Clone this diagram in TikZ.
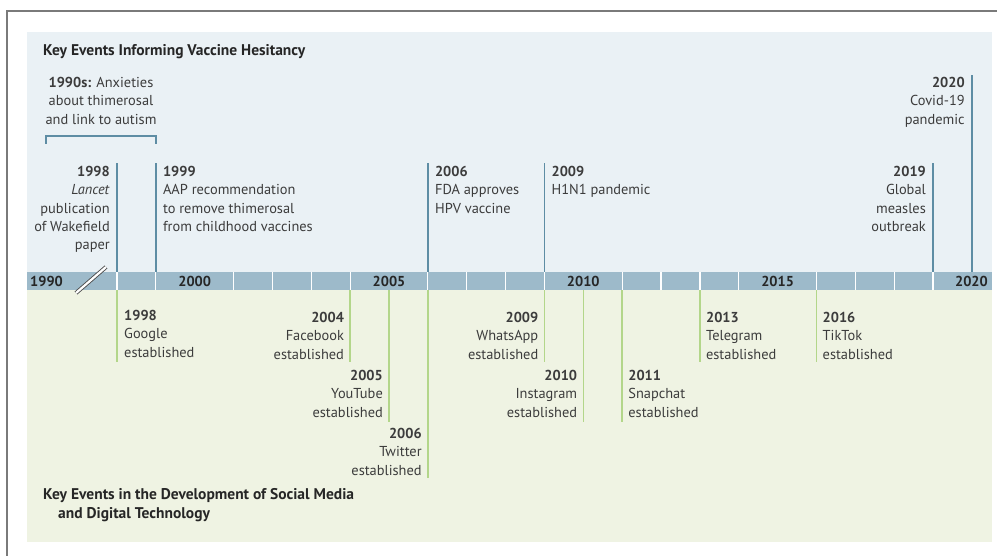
\documentclass[tikz,border=0pt]{standalone}
\usepackage{fontspec}
\setmainfont{PT Sans}
\definecolor{topbg}{HTML}{EAF1F5}
\definecolor{botbg}{HTML}{EFF3E3}
\definecolor{band}{HTML}{9DBACA}
\definecolor{blueline}{HTML}{5E8DA4}
\definecolor{greenline}{HTML}{B3D68A}
\definecolor{txt}{HTML}{3C3C3C}
\definecolor{frame}{HTML}{7A7A7A}
\begin{document}
\begin{tikzpicture}[x=1pt,y=-1pt,
  declare function={yr(\t)=117+38.86*(\t-1998);},
  body/.style={inner sep=0pt,text=txt,font=\fontsize{14.4}{18.3}\selectfont},
  lbl/.style={body,align=left,anchor=north west},
  rlbl/.style={body,align=right,anchor=north east},
  ttl/.style={inner sep=0pt,text=black!85,font=\fontsize{15.5}{19}\selectfont\bfseries,align=left,anchor=west},
  axlbl/.style={inner sep=0pt,text=black!85,font=\fontsize{14.4}{16}\selectfont\bfseries},
  bevent/.style={draw=blueline,line width=1.4pt},
  gevent/.style={draw=greenline,line width=1.4pt},
  sep/.style={draw=white,line width=1.2pt}]
\useasboundingbox (0,0) rectangle (997,556);
\fill[white] (0,0) rectangle (997,556);
% outer frame
\draw[frame,line width=1.3pt] (997,11) -- (7,11) -- (7,556);
% panels
\fill[topbg] (27,32) rectangle (992,272);
\fill[botbg] (27,290) rectangle (992,542);
\fill[band] (27,272) rectangle (992,290);
% band separators
\foreach \y in {1998,1999,2001,2002,2003,2004,2006,2007,2008,2009,2011,2012,2013,2014,2016,2017,2018,2019}
  \draw[sep] ({yr(\y)},272) -- ({yr(\y)},290);
% break mark
\draw[draw=black!70,double=white,double distance=2.2pt,line width=0.9pt] (76,293) -- (106,267);
% axis labels
\node[axlbl,anchor=west] (a1990) at (30,281) {1990};
\node[axlbl] (a2000) at ({yr(2000)},281) {2000};
\node[axlbl] (a2005) at ({yr(2005)},281) {2005};
\node[axlbl] (a2010) at ({yr(2010)},281) {2010};
\node[axlbl] (a2015) at ({yr(2015)},281) {2015};
\node[axlbl,anchor=east] (a2020) at (988,281) {2020};
% titles
\node[ttl] (ttop) at (43,52) {Key Events Informing Vaccine Hesitancy};
\node[ttl] (tbot1) at (43,496) {Key Events in the Development of Social Media};
\node[ttl] (tbot2) at (58,515) {and Digital Technology};
% bracket
\coordinate (brL) at (46,144);
\coordinate (brR) at ({yr(1999)},144);
\draw[blueline,line width=1.4pt] (brL) -- (46,136) -- ({yr(1999)},136) -- (brR);
\node[body,align=center,anchor=north] (e1990s) at (101,77) {\textbf{1990s:} Anxieties\\about thimerosal\\and link to autism};
% top events
\foreach \y/\t in {1998/163,1999/163,2006/163,2009/163,2019/163,2020/75}
  \draw[bevent] ({yr(\y)},272) -- ({yr(\y)},\t);
\node[rlbl] (e1998t) at ({yr(1998)-7},166) {\textbf{1998}\\\textit{Lancet}\\publication\\of Wakefield\\paper};
\node[lbl] (e1999t) at ({yr(1999)+7},166) {\textbf{1999}\\AAP recommendation\\to remove thimerosal\\from childhood vaccines};
\node[lbl] (e2006t) at ({yr(2006)+7},166) {\textbf{2006}\\FDA approves\\HPV vaccine};
\node[lbl] (e2009t) at ({yr(2009)+7},166) {\textbf{2009}\\H1N1 pandemic};
\node[rlbl] (e2019t) at ({yr(2019)-7},166) {\textbf{2019}\\Global\\measles\\outbreak};
\node[rlbl] (e2020t) at ({yr(2020)-7},77) {\textbf{2020}\\Covid-19\\pandemic};
% bottom events
\foreach \y/\b in {1998/362,2004/362,2005/422,2006/478,2009/362,2010/422,2011/422,2013/362,2016/362}
  \draw[gevent] ({yr(\y)},290) -- ({yr(\y)},\b);
\node[lbl] (e1998b) at ({yr(1998)+7},310) {\textbf{1998}\\Google\\established};
\node[rlbl] (e2004b) at ({yr(2004)-6},312) {\textbf{2004}\\Facebook\\established};
\node[rlbl] (e2005b) at ({yr(2005)-6},370) {\textbf{2005}\\YouTube\\established};
\node[rlbl] (e2006b) at ({yr(2006)-6},428) {\textbf{2006}\\Twitter\\established};
\node[rlbl] (e2009b) at ({yr(2009)-6},312) {\textbf{2009}\\WhatsApp\\established};
\node[rlbl] (e2010b) at ({yr(2010)-6},370) {\textbf{2010}\\Instagram\\established};
\node[lbl] (e2011b) at ({yr(2011)+6},370) {\textbf{2011}\\Snapchat\\established};
\node[lbl] (e2013b) at ({yr(2013)+6},312) {\textbf{2013}\\Telegram\\established};
\node[lbl] (e2016b) at ({yr(2016)+6},312) {\textbf{2016}\\TikTok\\established};
\end{tikzpicture}
\end{document}
